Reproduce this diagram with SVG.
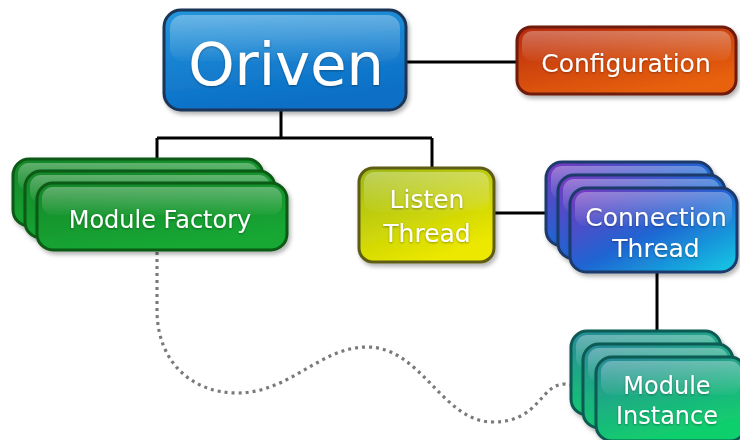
<svg xmlns="http://www.w3.org/2000/svg" width="740" height="440" viewBox="0 0 740 440">
  <defs>
    <style>
      .lbl { font-family: "DejaVu Sans", "Liberation Sans", sans-serif; fill: #ffffff; text-anchor: middle; filter: url(#tshadow); }
      .wire { stroke: #000000; stroke-width: 3; fill: none; }
      .dots { stroke: #7a7a7a; stroke-width: 3.2; fill: none; stroke-dasharray: 3 4; }
      .box { stroke-width: 3; filter: url(#shadow); }
      .gloss { fill: url(#gloss); stroke: none; }
    </style>
    <filter id="shadow" x="-10%" y="-10%" width="130%" height="140%">
      <feDropShadow dx="2" dy="3" stdDeviation="2" flood-color="#000" flood-opacity="0.3"/>
    </filter>
    <filter id="tshadow" x="-10%" y="-20%" width="120%" height="150%">
      <feDropShadow dx="0" dy="1" stdDeviation="1" flood-color="#000" flood-opacity="0.35"/>
    </filter>
    <linearGradient id="gloss" x1="0" y1="0" x2="0" y2="1">
      <stop offset="0" stop-color="#ffffff" stop-opacity="0.32"/>
      <stop offset="1" stop-color="#ffffff" stop-opacity="0.03"/>
    </linearGradient>
    <linearGradient id="gBlue" x1="0" y1="0" x2="0.3" y2="1">
      <stop offset="0" stop-color="#2596dc"/>
      <stop offset="1" stop-color="#0b6fc6"/>
    </linearGradient>
    <linearGradient id="gRed" x1="0" y1="0" x2="0.6" y2="1">
      <stop offset="0" stop-color="#b82a0c"/>
      <stop offset="1" stop-color="#e8620e"/>
    </linearGradient>
    <linearGradient id="gGreen" x1="0" y1="0" x2="0.4" y2="1">
      <stop offset="0" stop-color="#15862a"/>
      <stop offset="1" stop-color="#12a832"/>
    </linearGradient>
    <linearGradient id="gYellow" x1="0" y1="0" x2="0.5" y2="1">
      <stop offset="0" stop-color="#9cb814"/>
      <stop offset="1" stop-color="#ece800"/>
    </linearGradient>
    <linearGradient id="gPurple" x1="0" y1="0" x2="1" y2="1">
      <stop offset="0" stop-color="#7a38c0"/>
      <stop offset="0.5" stop-color="#2064d2"/>
      <stop offset="1" stop-color="#10cce4"/>
    </linearGradient>
    <linearGradient id="gTeal" x1="0" y1="0" x2="0.4" y2="1">
      <stop offset="0" stop-color="#2a8a9a"/>
      <stop offset="1" stop-color="#10d06c"/>
    </linearGradient>
  </defs>

  <rect width="740" height="440" fill="#ffffff"/>

  <!-- connectors -->
  <g id="connectors">
    <path class="wire" d="M407,62 H518"/>
    <path class="wire" d="M281,110 V138 M157,138 H432 M157,138 V162 M432,138 V168"/>
    <path class="wire" d="M495,213 H548"/>
    <path class="wire" d="M657,272 V332"/>
    <path class="dots" d="M157,252 V310 C157,362 192,393 237,393 C290,393 320,347 367,347 C422,347 442,422 493,422 C540,422 540,384 565,384 L584,387"/>
  </g>

  <!-- Oriven -->
  <g id="oriven">
    <rect class="box" x="164" y="10" width="242" height="100" rx="17" fill="url(#gBlue)" stroke="#1b3556"/>
    <rect class="gloss" x="170" y="15" width="230" height="46" rx="13"/>
    <text class="lbl" x="286" y="85" font-size="59">Oriven</text>
  </g>

  <!-- Configuration -->
  <g id="configuration">
    <rect class="box" x="517" y="27" width="219" height="67" rx="14" fill="url(#gRed)" stroke="#6e1a0a"/>
    <rect class="gloss" x="522" y="31" width="209" height="30" rx="10"/>
    <text class="lbl" x="626" y="72" font-size="25">Configuration</text>
  </g>

  <!-- Module Factory (stacked) -->
  <g id="module-factory">
    <rect class="box" x="13" y="159" width="250" height="67" rx="16" fill="url(#gGreen)" stroke="#0b5a16"/>
    <rect class="gloss" x="18" y="163" width="240" height="28" rx="11"/>
    <rect class="box" x="25" y="171" width="250" height="67" rx="16" fill="url(#gGreen)" stroke="#0b5a16"/>
    <rect class="gloss" x="30" y="175" width="240" height="28" rx="11"/>
    <rect class="box" x="37" y="183" width="250" height="67" rx="16" fill="url(#gGreen)" stroke="#0b5a16"/>
    <rect class="gloss" x="42" y="187" width="240" height="28" rx="11"/>
    <text class="lbl" x="160" y="228" font-size="24">Module Factory</text>
  </g>

  <!-- Listen Thread -->
  <g id="listen-thread">
    <rect class="box" x="359" y="168" width="135" height="94" rx="14" fill="url(#gYellow)" stroke="#5e5c12"/>
    <rect class="gloss" x="364" y="172" width="125" height="40" rx="10"/>
    <text class="lbl" x="427" y="208" font-size="25">Listen</text>
    <text class="lbl" x="427" y="242" font-size="25">Thread</text>
  </g>

  <!-- Connection Thread (stacked) -->
  <g id="connection-thread">
    <rect class="box" x="546" y="162" width="167" height="84" rx="16" fill="url(#gPurple)" stroke="#1a3a6a"/>
    <rect class="gloss" x="551" y="166" width="157" height="34" rx="11"/>
    <rect class="box" x="558" y="175" width="167" height="84" rx="16" fill="url(#gPurple)" stroke="#1a3a6a"/>
    <rect class="gloss" x="563" y="179" width="157" height="34" rx="11"/>
    <rect class="box" x="570" y="188" width="167" height="84" rx="16" fill="url(#gPurple)" stroke="#1a3a6a"/>
    <rect class="gloss" x="575" y="192" width="157" height="34" rx="11"/>
    <text class="lbl" x="656" y="226" font-size="25">Connection</text>
    <text class="lbl" x="656" y="257" font-size="25">Thread</text>
  </g>

  <!-- Module Instance (stacked) -->
  <g id="module-instance">
    <rect class="box" x="571" y="331" width="150" height="84" rx="16" fill="url(#gTeal)" stroke="#0b5a52"/>
    <rect class="gloss" x="576" y="335" width="140" height="34" rx="11"/>
    <rect class="box" x="583" y="344" width="150" height="84" rx="16" fill="url(#gTeal)" stroke="#0b5a52"/>
    <rect class="gloss" x="588" y="348" width="140" height="34" rx="11"/>
    <rect class="box" x="596" y="357" width="150" height="84" rx="16" fill="url(#gTeal)" stroke="#0b5a52"/>
    <rect class="gloss" x="601" y="361" width="140" height="34" rx="11"/>
    <text class="lbl" x="667" y="394" font-size="24">Module</text>
    <text class="lbl" x="667" y="424" font-size="24">Instance</text>
  </g>
</svg>
